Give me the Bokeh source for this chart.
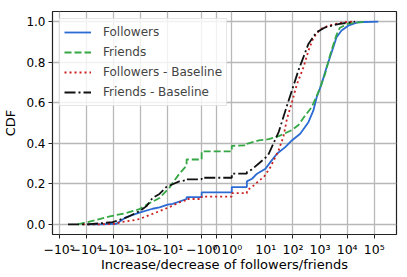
import math
from bokeh.plotting import figure
from bokeh.models import FixedTicker, Range1d, Legend, LegendItem, PrintfTickFormatter
from bokeh.embed import file_html
from bokeh.resources import INLINE

# ---- data ----
followers_x = [-9000, -3200, -780, -330, -109, -36, -20, -10, -6.5, -2, -2, -1, -1, 1, 1, 2, 2,
               3.1, 4.75, 9.7, 14.7, 25.7, 52, 91, 185, 372, 568, 750, 1140, 1740, 2320, 3060,
               4050, 6180, 10900, 25200, 140000]
followers_cdf = [0.0, 0.0, 0.003, 0.036, 0.058, 0.077, 0.084, 0.097, 0.101, 0.125, 0.134, 0.134,
                 0.158, 0.158, 0.184, 0.184, 0.212, 0.225, 0.25, 0.274, 0.307, 0.348, 0.381, 0.414,
                 0.447, 0.504, 0.562, 0.627, 0.693, 0.775, 0.824, 0.873, 0.923, 0.956, 0.98, 0.997, 1.0]

friends_x = [-20300, -4840, -1360, -333, -109, -54, -20, -8.7, -3.7, -2, -2, -1, -1, 1, 1, 2, 2,
             5.5, 12.8, 29.7, 91, 160, 282, 492, 865, 1520, 2320, 3060, 4050, 5400, 10900, 45600]
friends_cdf = [0.0, 0.02, 0.039, 0.056, 0.075, 0.10, 0.13, 0.18, 0.25, 0.29, 0.32, 0.32, 0.36,
               0.36, 0.387, 0.39, 0.397, 0.414, 0.42, 0.435, 0.465, 0.49, 0.537, 0.578, 0.652,
               0.74, 0.833, 0.885, 0.935, 0.97, 0.99, 1.0]

followers_base_x = [-13300, -3170, -776, -588, -191, -109, -47, -20, -8.7, -3.7, -2, -2, -1, -1,
                    1, 1, 2, 2, 3.1, 5.5, 8.4, 14.7, 29.7, 45, 60, 91, 139, 245, 372, 568, 1000,
                    2010, 7130, 16600]
followers_base_cdf = [0.0, 0.0, 0.003, 0.01, 0.02, 0.026, 0.046, 0.065, 0.085, 0.108, 0.12, 0.125,
                      0.125, 0.137, 0.137, 0.154, 0.154, 0.168, 0.184, 0.215, 0.233, 0.282, 0.365,
                      0.435, 0.52, 0.60, 0.69, 0.775, 0.857, 0.92, 0.962, 0.98, 0.997, 1.0]

friends_base_x = [-47100, -9500, -3170, -1060, -325, -109, -60, -36, -20, -11, -3.7, -2, -2, -1,
                  -1, 1, 1, 2, 2, 3.0, 5.5, 9.9, 12.8, 29.7, 69, 160, 372, 731, 1560, 4680, 19600]
friends_base_cdf = [0.0, 0.0, 0.005, 0.011, 0.034, 0.065, 0.09, 0.13, 0.15, 0.185, 0.212, 0.218,
                    0.222, 0.222, 0.23, 0.23, 0.25, 0.25, 0.258, 0.27, 0.30, 0.33, 0.348, 0.455,
                    0.61, 0.76, 0.89, 0.947, 0.972, 0.988, 1.0]

x_tick_values = [-1e5, -1e4, -1e3, -1e2, -1e1, -1, 0, 1, 1e1, 1e2, 1e3, 1e4, 1e5]
x_tick_labels = ["\u221210\u2075", "\u221210\u2074", "\u221210\u00b3", "\u221210\u00b2",
                 "\u221210\u00b9", "\u221210\u2070", "0", "10\u2070", "10\u00b9", "10\u00b2",
                 "10\u00b3", "10\u2074", "10\u2075"]
y_ticks = [0.0, 0.2, 0.4, 0.6, 0.8, 1.0]

series = [
    ("Followers", followers_x, followers_cdf, "#2b6bd3", None),
    ("Friends", friends_x, friends_cdf, "#35a845", "7 3"),
    ("Followers - Baseline", followers_base_x, followers_base_cdf, "#cc1f1f", "2 3"),
    ("Friends - Baseline", friends_base_x, friends_base_cdf, "#111111", "11 3 2 3"),
]

# ---- symmetric log transform (linthresh 2, linscale 1), in decade units ----
LINTHRESH = 2.0
LINSCALE_ADJ = 1.0 / (1.0 - 1.0 / 10.0)


def symlog(v):
    a = abs(v)
    if a <= LINTHRESH:
        return v * LINSCALE_ADJ / LINTHRESH
    return math.copysign(LINSCALE_ADJ + math.log10(a / LINTHRESH), v)


all_g = [symlog(v) for _, xs, _, _, _ in series for v in xs]
gmin, gmax = min(all_g), max(all_g)
pad = 0.05 * (gmax - gmin)

FONT = "DejaVu Sans"

p = figure(width=407, height=277, output_backend="svg", toolbar_location=None,
           x_range=Range1d(gmin - pad, gmax + pad + 0.1), y_range=Range1d(-0.05, 1.05),
           min_border_left=52, min_border_right=11, min_border_top=11, min_border_bottom=43)
p.background_fill_color = "white"
p.border_fill_color = "white"
p.outline_line_color = "#222222"
p.outline_line_width = 1.2
p.outline_line_alpha = 1.0

xt = [symlog(v) for v in x_tick_values]
p.xaxis.ticker = FixedTicker(ticks=xt)
p.xaxis.major_label_overrides = {t: lab for t, lab in zip(xt, x_tick_labels)}
p.yaxis.ticker = FixedTicker(ticks=y_ticks)
p.yaxis.formatter = PrintfTickFormatter(format="%.1f")

p.xaxis.axis_label = "Increase/decrease of followers/friends"
p.yaxis.axis_label = "CDF"
for ax in p.axis:
    ax.axis_line_color = None
    ax.major_tick_in = 0
    ax.major_tick_out = 4
    ax.major_tick_line_color = "#222222"
    ax.minor_tick_line_color = None
    ax.major_label_text_font = FONT
    ax.major_label_text_font_size = "12px"
    ax.major_label_text_color = "black"
    ax.axis_label_text_font = FONT
    ax.axis_label_text_font_size = "13px"
    ax.axis_label_text_font_style = "normal"
    ax.axis_label_text_color = "black"
    ax.major_label_standoff = 3
p.xaxis.major_label_text_font_size = "12.5px"
p.xaxis.axis_label_standoff = -3
p.yaxis.axis_label_standoff = 5

p.grid.grid_line_color = "#b8b8b8"
p.grid.grid_line_width = 1.3

items = []
for name, xs, ys, color, dash in series:
    gx = [symlog(v) for v in xs]
    kw = dict(line_color=color, line_width=1.8)
    if dash:
        kw["line_dash"] = dash
    r = p.line(gx, ys, **kw)
    items.append(LegendItem(label=name, renderers=[r]))

legend = Legend(items=items, location="top_left")
legend.margin = 7
legend.padding = 4
legend.spacing = 2
legend.glyph_width = 27
legend.glyph_height = 18
legend.label_height = 18
legend.label_standoff = 12
legend.label_text_font = FONT
legend.label_text_font_size = "12px"
legend.border_line_color = "#cccccc"
legend.border_line_width = 1
legend.background_fill_alpha = 0.8
p.add_layout(legend)

open("out.html", "w").write(file_html(p, INLINE))
